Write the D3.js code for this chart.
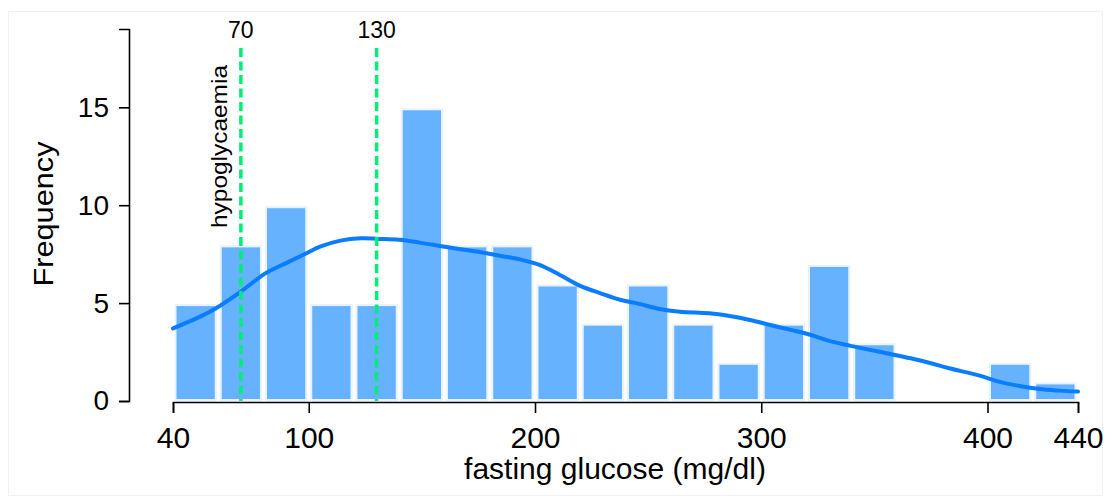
<!DOCTYPE html>
<html>
<head>
<meta charset="utf-8">
<script src="https://cdn.jsdelivr.net/npm/d3@7"></script>
<style>
  html, body { margin: 0; padding: 0; background: #fff; }
  svg { display: block; font-family: "Liberation Sans", Arial, sans-serif; }
</style>
</head>
<body>
<svg id="chart" width="1110" height="503"></svg>
<script>
// Histogram of fasting glucose, 20 mg/dl bins from 40 to 440
const binStarts = [40, 60, 80, 100, 120, 140, 160, 180, 200, 220, 240, 260, 280, 300, 320, 340, 360, 380, 400, 420];
const binWidth = 20;
const counts = [5, 8, 10, 5, 5, 15, 8, 8, 6, 4, 6, 4, 2, 4, 7, 3, 0, 0, 2, 1];

// Smoothed density curve, scaled to frequency units
const densityX = [40, 52, 59, 70, 81, 90, 99, 105, 114, 123, 131, 140, 149, 158, 167, 176, 185, 193, 202, 211, 220, 229, 238, 246, 255, 264, 277, 286, 295, 304, 313, 322, 330, 339, 348, 357, 366, 375, 383, 397, 405, 414, 423, 432, 440];
const densityY = [3.71, 4.31, 4.74, 5.59, 6.53, 7.04, 7.55, 7.88, 8.19, 8.31, 8.28, 8.23, 8.09, 7.92, 7.75, 7.60, 7.41, 7.24, 6.95, 6.44, 5.88, 5.50, 5.16, 4.96, 4.70, 4.56, 4.48, 4.34, 4.14, 3.88, 3.63, 3.37, 3.07, 2.83, 2.61, 2.40, 2.18, 1.93, 1.67, 1.28, 0.99, 0.77, 0.61, 0.53, 0.48];

// Reference lines
const refValues = [70, 130];
const refLabels = ["70", "130"];
const refNote = "hypoglycaemia";

const xTicks = [40, 100, 200, 300, 400, 440];
const yTicks = [0, 5, 10, 15];
const xTitle = "fasting glucose (mg/dl)";
const yTitle = "Frequency";

const svg = d3.select("#chart");

// faint frame around the figure
svg.append("rect")
  .attr("x", 8.5).attr("y", 11.5).attr("width", 1094).attr("height", 484)
  .attr("fill", "none").attr("stroke", "#f1f1f1").attr("stroke-width", 1);

const x = d3.scaleLinear().domain([40, 440]).range([173, 1078]);
const y = d3.scaleLinear().domain([0, 19]).range([401, 29]);

// bars
const bins = binStarts.map((s, i) => ({ x0: s, x1: s + binWidth, n: counts[i] }));
svg.append("g")
  .selectAll("rect")
  .data(bins.filter(d => d.n > 0))
  .join("rect")
  .attr("x", d => x(d.x0) + 2.5)
  .attr("width", d => x(d.x1) - x(d.x0) - 5)
  .attr("y", d => y(d.n) + 2)
  .attr("height", d => y(0) - y(d.n) - 3)
  .attr("fill", "#66B2FF")
  .attr("stroke", "#E8F3FF")
  .attr("stroke-width", 2);

// density curve
const line = d3.line()
  .x((d, i) => x(densityX[i]))
  .y(d => y(d))
  .curve(d3.curveCatmullRom.alpha(0.5));
svg.append("path")
  .datum(densityY)
  .attr("d", line)
  .attr("fill", "none")
  .attr("stroke", "#0A7CFF")
  .attr("stroke-width", 4)
  .attr("stroke-linecap", "round");

// dashed reference lines with labels
const refs = svg.append("g");
refs.selectAll("line")
  .data(refValues)
  .join("line")
  .attr("x1", d => x(d)).attr("x2", d => x(d))
  .attr("y1", 48).attr("y2", y(0))
  .attr("stroke", "#00EE76")
  .attr("stroke-width", 3.5)
  .attr("stroke-dasharray", "9,4.5");
refs.selectAll("text")
  .data(refValues)
  .join("text")
  .attr("x", d => x(d))
  .attr("y", 37.5)
  .attr("text-anchor", "middle")
  .attr("font-size", 23)
  .attr("fill", "#000")
  .text((d, i) => refLabels[i]);
refs.append("text")
  .attr("transform", `translate(${x(refValues[0]) - 13.5},228) rotate(-90)`)
  .attr("text-anchor", "start")
  .attr("font-size", 22)
  .attr("textLength", 163)
  .attr("lengthAdjust", "spacingAndGlyphs")
  .attr("fill", "#000")
  .text(refNote);

// x axis
const xAxis = svg.append("g")
  .attr("transform", `translate(0,${y(0) + 1})`)
  .call(d3.axisBottom(x).tickValues(xTicks).tickSizeOuter(0).tickSize(11).tickPadding(14));
xAxis.selectAll("text").attr("font-size", 30).attr("fill", "#000").attr("font-family", "Liberation Sans, Arial, sans-serif");

// y axis
const yAxis = svg.append("g")
  .attr("transform", "translate(129,0)")
  .call(d3.axisLeft(y).tickValues(yTicks).tickSizeOuter(0).tickSize(10).tickPadding(10));
yAxis.selectAll("text").attr("font-size", 28).attr("fill", "#000").attr("font-family", "Liberation Sans, Arial, sans-serif");

[xAxis, yAxis].forEach(g => {
  g.selectAll("path, line").attr("stroke", "#000").attr("stroke-width", 1.6);
});

// axis titles
svg.append("text")
  .attr("x", 615).attr("y", 479)
  .attr("text-anchor", "middle")
  .attr("font-size", 30)
  .attr("fill", "#000")
  .text(xTitle);
svg.append("text")
  .attr("transform", "translate(53,214) rotate(-90)")
  .attr("text-anchor", "middle")
  .attr("font-size", 28)
  .attr("textLength", 145)
  .attr("lengthAdjust", "spacingAndGlyphs")
  .attr("fill", "#000")
  .text(yTitle);
</script>
</body>
</html>
